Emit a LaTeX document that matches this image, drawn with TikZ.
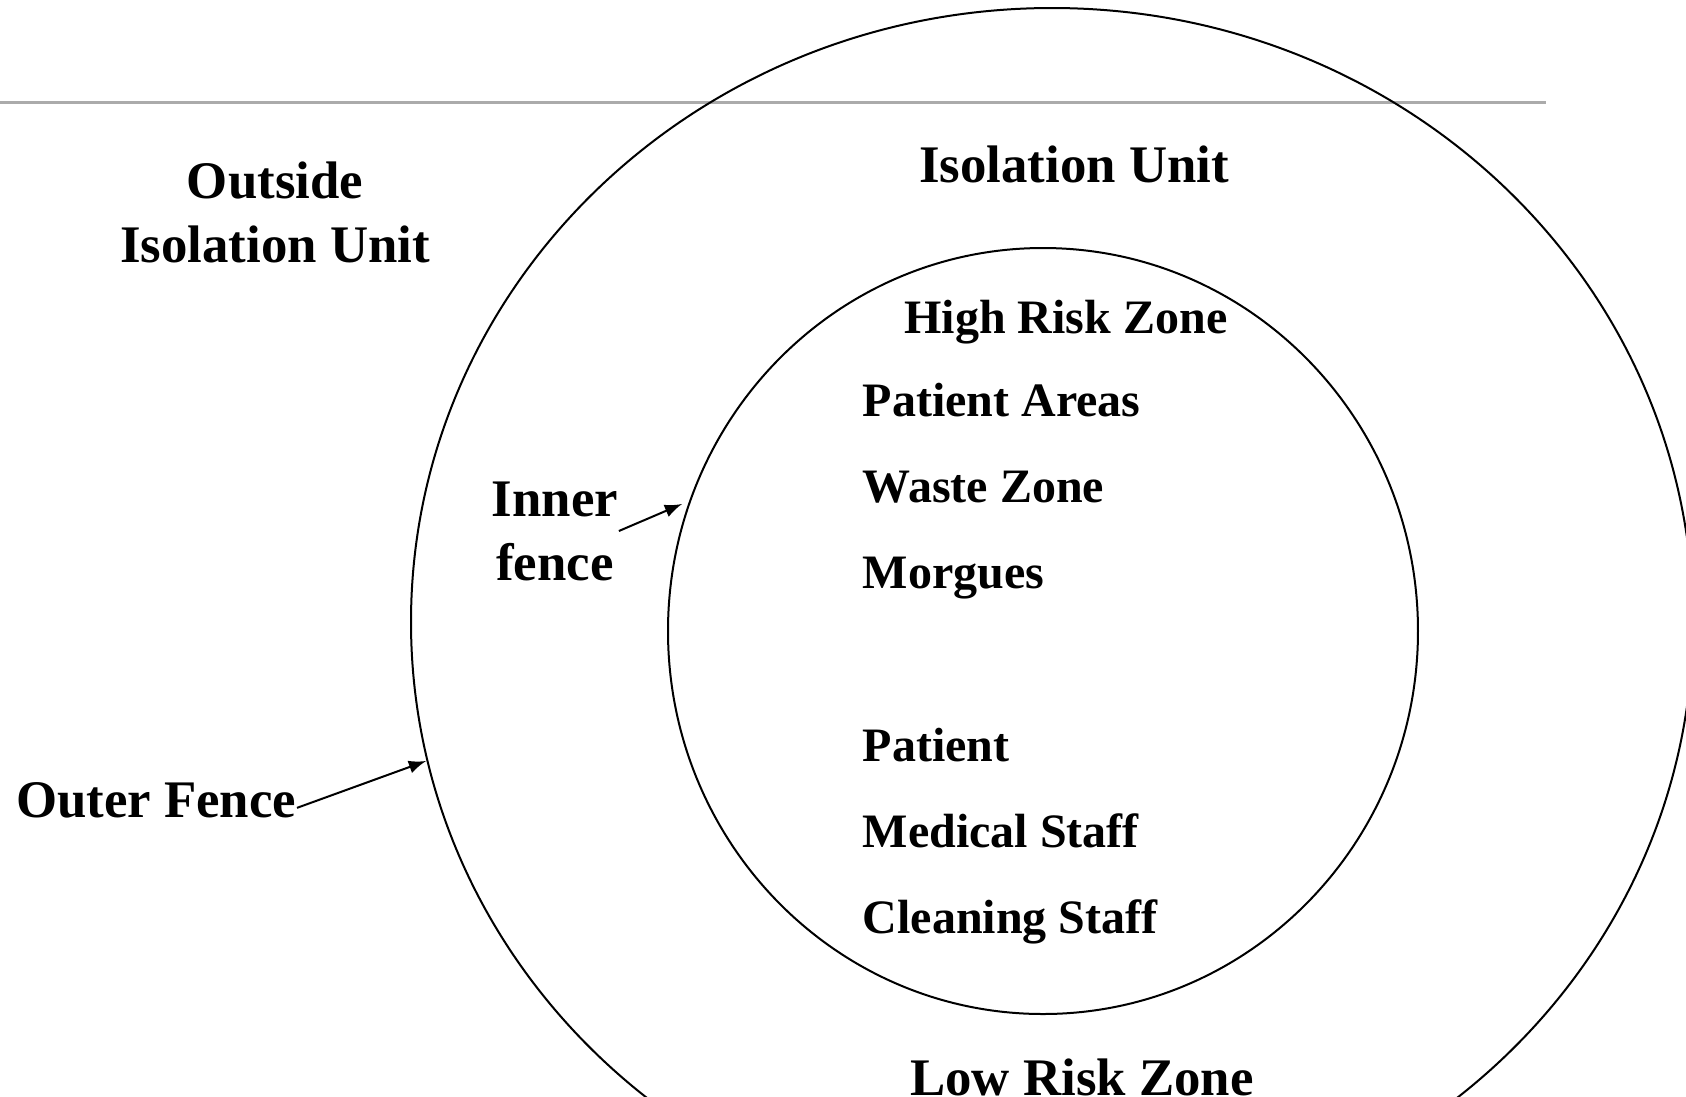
\documentclass[tikz,border=0pt]{standalone}
\usepackage{fontspec}
\setmainfont{Liberation Serif}
\usepackage{tikz}
\usetikzlibrary{arrows}
\usetikzlibrary{positioning}

\begin{document}
\begin{tikzpicture}[x=0.25pt, y=-0.25pt,
        zonetext/.style={font=\bfseries\fontsize{13.2}{16}\selectfont, inner sep=0pt},
        itemtext/.style={font=\bfseries\fontsize{12}{14.4}\selectfont, inner sep=0pt},
        fence/.style={line width=0.5pt},
        pointer/.style={-latex, line width=0.5pt}]

        % Page is the size of the reference, the outer ring runs off it
        \clip (0, 0) rectangle (1686, 1096);

        % Grey rule across the top (drawn first so the rings sit on it)
        \draw[color=black!33, line width=0.75pt] (0, 102) -- (1546, 102);

        % Outer and inner fence
        \draw[fence] (1052, 622) ellipse [x radius=160.25pt, y radius=153.5pt];
        \draw[fence] (1043, 631) ellipse [x radius=93.75pt, y radius=95.75pt];

        % Zone names
        \node (outside) [zonetext, align=center] at (275, 212) {Outside\\Isolation Unit};
        \node (unit) [zonetext, anchor=base] at (1074, 182) {Isolation Unit};
        \node (high) [itemtext, anchor=base] at (1066, 333) {High Risk Zone};
        \node (low) [zonetext, anchor=base] at (1082, 1095) {Low Risk Zone};

        % What is inside the high risk zone
        \node (areas) [itemtext, anchor=base west] at (862, 416) {Patient Areas};
        \node (waste) [itemtext, anchor=base west] at (862, 502) {Waste Zone};
        \node (morgues) [itemtext, anchor=base west] at (862, 588) {Morgues};

        % Who is inside it
        \node (patient) [itemtext, anchor=base west] at (862, 761) {Patient};
        \node (medical) [itemtext, anchor=base west] at (862, 847) {Medical Staff};
        \node (cleaning) [itemtext, anchor=base west] at (862, 933) {Cleaning Staff};

        % Fence labels and their pointers
        \node (inner) [zonetext, align=center] at (555, 531) {Inner\\fence};
        \node (outer) [zonetext, anchor=base east] at (297, 817) {Outer Fence};

        \coordinate (innertip) at (682, 504);
        \coordinate (outertip) at (426, 761);

        \draw[pointer] (inner.east) -- (innertip);
        \draw[pointer] ([yshift=-2pt]outer.east) -- (outertip);
\end{tikzpicture}
\end{document}
